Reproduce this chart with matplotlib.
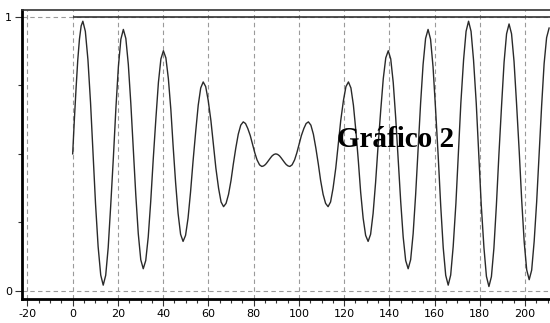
import matplotlib
matplotlib.use("Agg")
import matplotlib.pyplot as plt
from matplotlib.ticker import MultipleLocator, FixedLocator

# values, one row per half swing
x_vals = [
    0, 0.75, 1.5, 2.25, 3.0, 3.75,
    4.5, 5.6, 6.75, 7.9, 9.0, 10.1, 11.25, 12.4,
    13.5, 14.6, 15.7, 16.8, 18.0, 19.1, 20.2, 21.3,
    22.4, 23.5, 24.6, 25.7, 26.8, 27.9, 29.0, 30.1,
    31.2, 32.3, 33.4, 34.5, 35.6, 36.8, 37.9, 39.0,
    40.1, 41.2, 42.3, 43.4, 44.4, 45.5, 46.6, 47.7,
    48.8, 49.9, 51.0, 52.1, 53.2, 54.4, 55.5, 56.6,
    57.7, 58.8, 59.9, 61.1, 62.2, 63.3, 64.5, 65.6,
    66.7, 67.8, 68.9, 70.0, 71.0, 72.1, 73.2, 74.3,
    75.4, 76.4, 77.4, 78.5, 79.5, 80.5, 81.5, 82.6,
    83.6, 84.4, 85.2, 85.9, 86.7, 87.5, 88.2, 89.0,
    89.8, 90.6, 91.4, 92.1, 92.9, 93.7, 94.4, 95.2,
    96.0, 97.0, 98.1, 99.1, 100.1, 101.1, 102.2, 103.2,
    104.2, 105.3, 106.4, 107.5, 108.6, 109.6, 110.7, 111.8,
    112.9, 114.0, 115.1, 116.3, 117.4, 118.5, 119.7, 120.8,
    121.9, 123.0, 124.1, 125.2, 126.3, 127.3, 128.4, 129.5,
    130.6, 131.7, 132.8, 133.9, 135.0, 136.2, 137.3, 138.4,
    139.5, 140.6, 141.7, 142.8, 143.9, 145.0, 146.1, 147.2,
    148.3, 149.4, 150.5, 151.6, 152.7, 153.8, 154.9, 156.0,
    157.1, 158.2, 159.3, 160.4, 161.6, 162.7, 163.8, 164.9,
    166.0, 167.1, 168.2, 169.4, 170.5, 171.6, 172.8, 173.9,
    175.0, 176.1, 177.2, 178.4, 179.5, 180.6, 181.8, 182.9,
    184.0, 185.1, 186.2, 187.3, 188.4, 189.6, 190.7, 191.8,
    192.9, 194.0, 195.1, 196.2, 197.4, 198.5, 199.6, 200.7,
    201.8, 202.9, 204.0, 205.1, 206.2, 207.3, 208.4, 209.5,
    210.6,
]
y_vals = [
    0.50, 0.626, 0.74, 0.843, 0.92, 0.968,
    0.985, 0.948, 0.844, 0.687, 0.50, 0.318, 0.161, 0.057,
    0.02, 0.056, 0.157, 0.309, 0.488, 0.666, 0.818, 0.919,
    0.955, 0.922, 0.827, 0.685, 0.518, 0.350, 0.208, 0.113,
    0.08, 0.110, 0.196, 0.326, 0.479, 0.631, 0.761, 0.847,
    0.877, 0.851, 0.775, 0.662, 0.529, 0.395, 0.282, 0.206,
    0.18, 0.202, 0.265, 0.360, 0.472, 0.583, 0.678, 0.741,
    0.763, 0.746, 0.696, 0.622, 0.535, 0.448, 0.374, 0.324,
    0.307, 0.319, 0.352, 0.403, 0.462, 0.521, 0.572, 0.605,
    0.617, 0.611, 0.593, 0.567, 0.536, 0.504, 0.478, 0.460,
    0.454, 0.456, 0.461, 0.468, 0.477, 0.486, 0.493, 0.498,
    0.50, 0.498, 0.493, 0.486, 0.477, 0.468, 0.461, 0.456,
    0.454, 0.460, 0.478, 0.504, 0.536, 0.567, 0.593, 0.611,
    0.617, 0.605, 0.572, 0.521, 0.462, 0.403, 0.352, 0.319,
    0.307, 0.324, 0.374, 0.448, 0.535, 0.622, 0.696, 0.746,
    0.763, 0.741, 0.678, 0.583, 0.472, 0.360, 0.265, 0.202,
    0.18, 0.206, 0.282, 0.395, 0.529, 0.662, 0.775, 0.851,
    0.877, 0.847, 0.761, 0.631, 0.479, 0.326, 0.196, 0.110,
    0.08, 0.113, 0.208, 0.350, 0.518, 0.685, 0.827, 0.922,
    0.955, 0.919, 0.818, 0.666, 0.488, 0.309, 0.157, 0.056,
    0.02, 0.057, 0.161, 0.318, 0.50, 0.687, 0.844, 0.948,
    0.985, 0.948, 0.843, 0.685, 0.50, 0.315, 0.157, 0.052,
    0.015, 0.051, 0.155, 0.312, 0.495, 0.678, 0.835, 0.939,
    0.975, 0.939, 0.838, 0.686, 0.508, 0.329, 0.177, 0.076,
    0.04, 0.075, 0.18, 0.324, 0.50, 0.676, 0.83, 0.925,
    0.96,
]

ref_level = 1.0
ref_start = 0
x_ticks = [-20, 0, 20, 40, 60, 80, 100, 120, 140, 160, 180, 200]
y_ticks = [0, 1]
title_text = "Gráfico 2"

fig = plt.figure(figsize=(5.5, 3.23), dpi=100)
ax = fig.add_axes([0.04, 0.074, 0.96, 0.895])

# dashed grid
for xt in x_ticks:
    ax.axvline(xt, color="#9a9a9a", lw=0.8, ls=(0, (4, 3)), zorder=1)
for yt in y_ticks:
    ax.axhline(yt, color="#9a9a9a", lw=0.8, ls=(0, (4, 3)), zorder=1)

ax.hlines(ref_level, ref_start, 215, color="#333333", lw=1.2, zorder=2)
ax.plot(x_vals, y_vals, color="#2a2a2a", lw=1.0, zorder=3)

ax.text(117, 0.525, title_text, fontsize=21, fontweight="bold",
        family=["Liberation Serif", "DejaVu Serif"], color="black", zorder=4)

ax.set_xlim(-22.4, 211)
ax.set_ylim(-0.031, 1.026)

ax.xaxis.set_major_locator(FixedLocator(x_ticks))
ax.xaxis.set_minor_locator(MultipleLocator(5))
ax.yaxis.set_major_locator(FixedLocator(y_ticks))
ax.yaxis.set_minor_locator(FixedLocator([0.25, 0.5, 0.75]))

tick_font = ["Liberation Sans Narrow", "DejaVu Sans"]
ax.set_xticklabels([str(t) for t in x_ticks], family=tick_font, fontsize=8)
ax.set_yticklabels([str(t) for t in y_ticks], family=tick_font, fontsize=8)
ax.tick_params(axis="both", which="major", length=5, width=0.8, color="#333333", pad=2)
ax.tick_params(axis="both", which="minor", length=3, width=0.8, color="#333333")

ax.spines["right"].set_visible(False)
ax.spines["left"].set_linewidth(2)
ax.spines["bottom"].set_linewidth(2)
ax.spines["top"].set_linewidth(1.2)
ax.spines["top"].set_color("#333333")

fig.savefig("out.png", dpi=100)
